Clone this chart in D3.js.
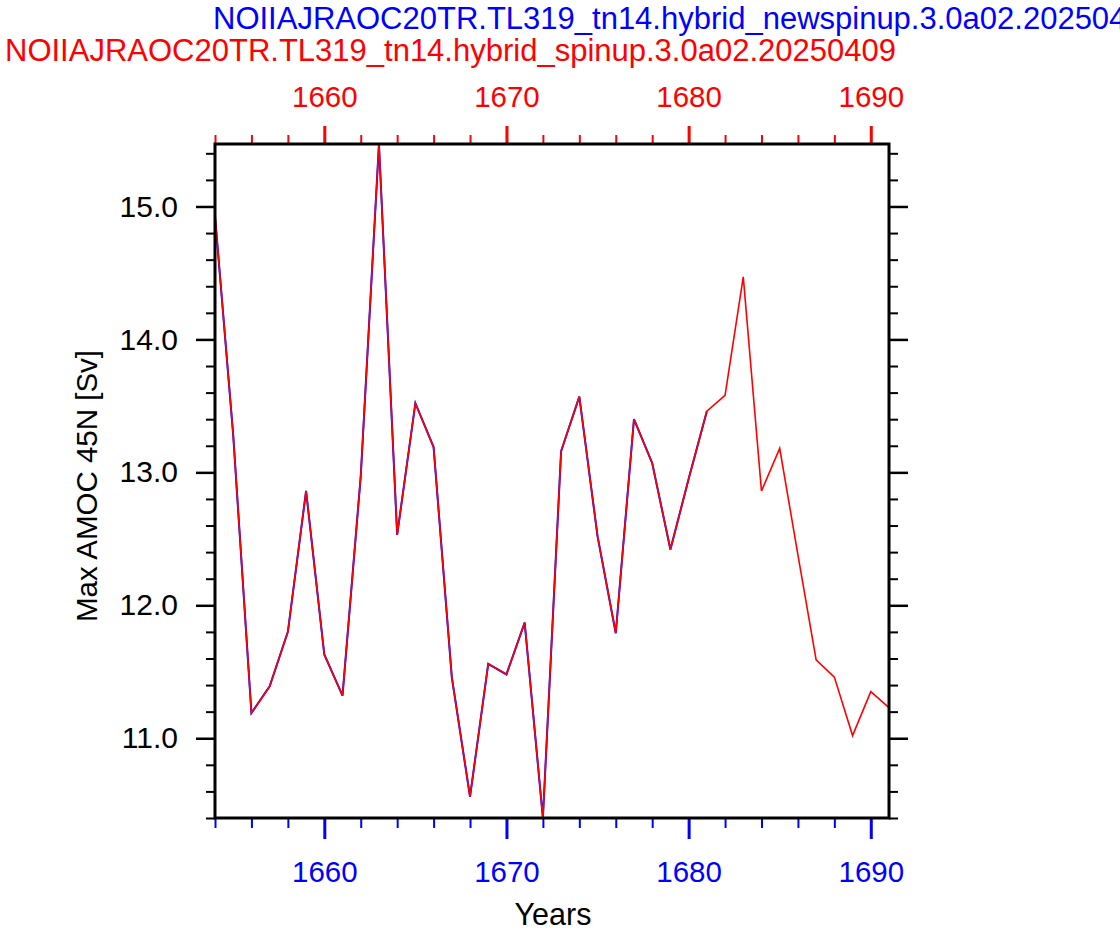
<!DOCTYPE html>
<html>
<head>
<meta charset="utf-8">
<script src="https://cdn.jsdelivr.net/npm/d3@7"></script>
<style>
  body { margin: 0; background: #fff; }
  text { font-family: "Liberation Sans", Arial, Helvetica, sans-serif; }
</style>
</head>
<body>
<div id="chart"></div>
<script>
// data
const years = d3.range(1654, 1692); // 1654..1691
const spinupAmoc = [14.93, 13.28, 11.19, 11.39, 11.80, 12.86, 11.63, 11.32, 12.97, 15.47,
  12.53, 13.52, 13.19, 11.46, 10.56, 11.56, 11.48, 11.87, 10.40, 13.16,
  13.57, 12.52, 11.79, 13.40, 13.07, 12.42, 12.95, 13.46, 13.58, 14.47,
  12.86, 13.18, 12.38, 11.59, 11.46, 11.02, 11.35, 11.23];
const newspinupAmoc = spinupAmoc.slice(0, 28); // 1654..1681, same values, drawn underneath
const xMajorTicks = [1660, 1670, 1680, 1690];
const yMajorTicks = [11, 12, 13, 14, 15];
const titleNew = "NOIIAJRAOC20TR.TL319_tn14.hybrid_newspinup.3.0a02.20250409";
const titleOld = "NOIIAJRAOC20TR.TL319_tn14.hybrid_spinup.3.0a02.20250409";

const W = 1120, H = 932;
const plotL = 215, plotR = 889, plotT = 144, plotB = 818;

const svg = d3.select("#chart").append("svg")
  .attr("width", W).attr("height", H);

const x = d3.scaleLinear().domain([1654, 1691]).range([plotL, plotR]);
const y = d3.scaleLinear().domain([10.4, 15.47]).range([plotB, plotT]);

const xMinor = d3.range(1654, 1692, 2).filter(d => d % 10 !== 0);
const yMinor = d3.range(104, 155, 2).map(d => d / 10).filter(d => d % 1 !== 0 && y(d) >= plotT - 0.5 && y(d) <= plotB + 0.5);

// minor ticks (drawn with the axis generators, no labels)
const minorAxis = (gen, vals, size) => gen.tickValues(vals).tickSize(size).tickFormat("");

function styleAxis(g, color, width) {
  g.select(".domain").remove();
  g.selectAll(".tick line").attr("stroke", color).attr("stroke-width", width);
}

// bottom (blue)
svg.append("g").attr("transform", `translate(0,${plotB})`)
  .call(minorAxis(d3.axisBottom(x), xMinor, 10)).call(g => styleAxis(g, "#0000ff", 2));
svg.append("g").attr("transform", `translate(0,${plotB})`)
  .call(d3.axisBottom(x).tickValues(xMajorTicks).tickSize(21).tickPadding(22).tickFormat(d3.format("d")))
  .call(g => styleAxis(g, "#0000ff", 3))
  .call(g => g.selectAll(".tick text").attr("fill", "#0000ff").style("font-size", "29.5px"));

// top (red)
svg.append("g").attr("transform", `translate(0,${plotT})`)
  .call(minorAxis(d3.axisTop(x), xMinor, 9)).call(g => styleAxis(g, "#ff0000", 2));
svg.append("g").attr("transform", `translate(0,${plotT})`)
  .call(d3.axisTop(x).tickValues(xMajorTicks).tickSize(18).tickPadding(19).tickFormat(d3.format("d")))
  .call(g => styleAxis(g, "#ff0000", 3))
  .call(g => g.selectAll(".tick text").attr("fill", "#ff0000").style("font-size", "29.5px"));

// left
svg.append("g").attr("transform", `translate(${plotL},0)`)
  .call(minorAxis(d3.axisLeft(y), yMinor, 9)).call(g => styleAxis(g, "#000", 2));
svg.append("g").attr("transform", `translate(${plotL},0)`)
  .call(d3.axisLeft(y).tickValues(yMajorTicks).tickSize(19).tickPadding(18).tickFormat(d3.format(".1f")))
  .call(g => styleAxis(g, "#000", 2.5))
  .call(g => g.selectAll(".tick text").attr("fill", "#000").style("font-size", "30px"));

// right
svg.append("g").attr("transform", `translate(${plotR},0)`)
  .call(minorAxis(d3.axisRight(y), yMinor, 9)).call(g => styleAxis(g, "#000", 2));
svg.append("g").attr("transform", `translate(${plotR},0)`)
  .call(d3.axisRight(y).tickValues(yMajorTicks).tickSize(19).tickFormat(""))
  .call(g => styleAxis(g, "#000", 2.5));

// lines
const line = d3.line().x((d, i) => x(years[i])).y(d => y(d));
svg.append("path").datum(newspinupAmoc)
  .attr("d", line).attr("fill", "none").attr("stroke", "#0000ff").attr("stroke-width", 2);
svg.append("path").datum(spinupAmoc)
  .attr("d", line).attr("fill", "none").attr("stroke", "#ff0000").attr("stroke-width", 1.6);

// frame
svg.append("rect")
  .attr("x", plotL).attr("y", plotT).attr("width", plotR - plotL).attr("height", plotB - plotT)
  .attr("fill", "none").attr("stroke", "#000").attr("stroke-width", 3);

// titles
svg.append("text").attr("x", 213).attr("y", 29)
  .attr("fill", "#0000ff").style("font-size", "31px").text(titleNew);
svg.append("text").attr("x", 5).attr("y", 61)
  .attr("fill", "#ff0000").style("font-size", "31px").text(titleOld);

svg.append("text")
  .attr("transform", `translate(97,${(plotT + plotB) / 2 + 5}) rotate(-90)`)
  .attr("text-anchor", "middle").attr("fill", "#000").style("font-size", "29.5px")
  .text("Max AMOC 45N [Sv]");

svg.append("text").attr("x", (plotL + plotR) / 2 + 1).attr("y", 925)
  .attr("text-anchor", "middle").attr("fill", "#000").style("font-size", "30.5px")
  .text("Years");
</script>
</body>
</html>
